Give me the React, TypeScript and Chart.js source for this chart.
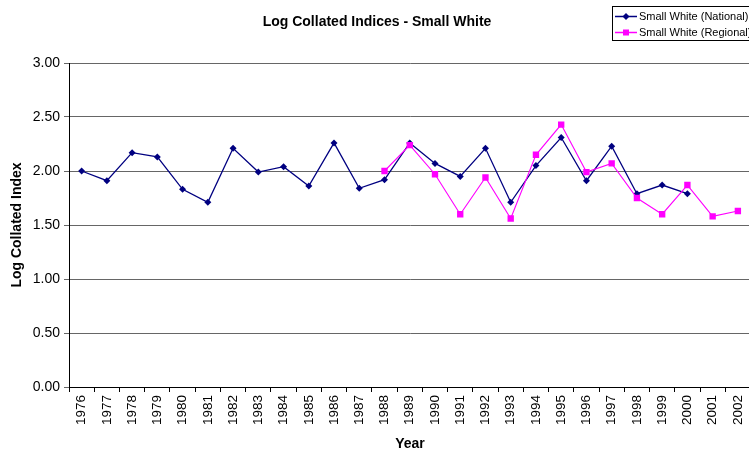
import React, { useEffect, useRef } from "react";
import { Chart, registerables } from "chart.js";

Chart.register(...registerables);

const years = [
  "1976", "1977", "1978", "1979", "1980", "1981", "1982", "1983", "1984",
  "1985", "1986", "1987", "1988", "1989", "1990", "1991", "1992", "1993",
  "1994", "1995", "1996", "1997", "1998", "1999", "2000", "2001", "2002",
];

const nationalValues: (number | null)[] = [
  2.0, 1.91, 2.17, 2.13, 1.83, 1.71, 2.21, 1.99, 2.04, 1.86, 2.26, 1.84, 1.92,
  2.26, 2.07, 1.95, 2.21, 1.71, 2.05, 2.31, 1.91, 2.23, 1.79, 1.87, 1.79, null, null,
];

const regionalValues: (number | null)[] = [
  null, null, null, null, null, null, null, null, null, null, null, null, 2.0,
  2.24, 1.97, 1.6, 1.94, 1.56, 2.15, 2.43, 1.99, 2.07, 1.75, 1.6, 1.87, 1.58, 1.63,
];

const seriesNames = ["Small White (National)", "Small White (Regional)"];
const chartTitle = "Log Collated Indices - Small White";
const xTitle = "Year";
const yTitle = "Log Collated Index";

const FONT = '"Liberation Sans", Arial, sans-serif';

const textPlugin = {
  id: "textPlugin",
  afterDraw(chart: any) {
    const ctx = chart.ctx as CanvasRenderingContext2D;
    const area = chart.chartArea;
    ctx.save();
    ctx.fillStyle = "#000";
    // chart title
    ctx.font = `bold 14px ${FONT}`;
    ctx.textAlign = "center";
    ctx.textBaseline = "middle";
    ctx.fillText(chartTitle, 377, 22);
    // x axis title
    ctx.fillText(xTitle, 410, 444);
    // y axis title
    ctx.save();
    ctx.translate(17, (area.top + area.bottom) / 2);
    ctx.rotate(-Math.PI / 2);
    ctx.fillText(yTitle, 0, 0);
    ctx.restore();

    // legend box
    const bx = 612.5, by = 6.5, bw = 137, bh = 34;
    ctx.fillStyle = "#fff";
    ctx.fillRect(bx, by, bw, bh);
    ctx.strokeStyle = "#000";
    ctx.lineWidth = 1;
    ctx.strokeRect(bx, by, bw, bh);
    const rows = [16.5, 32.5];
    chart.data.datasets.forEach((ds: any, i: number) => {
      const y = rows[i];
      ctx.strokeStyle = ds.borderColor;
      ctx.lineWidth = 1.5;
      ctx.beginPath();
      ctx.moveTo(615, y);
      ctx.lineTo(637, y);
      ctx.stroke();
      ctx.fillStyle = ds.pointBackgroundColor;
      ctx.beginPath();
      if (ds.pointStyle === "rect") {
        ctx.rect(626 - 3, y - 3, 6, 6);
      } else {
        ctx.moveTo(626, y - 3.5);
        ctx.lineTo(629.5, y);
        ctx.lineTo(626, y + 3.5);
        ctx.lineTo(622.5, y);
        ctx.closePath();
      }
      ctx.fill();
      ctx.fillStyle = "#000";
      ctx.font = `11px ${FONT}`;
      ctx.textAlign = "left";
      ctx.textBaseline = "middle";
      ctx.fillText(seriesNames[i], 639, y + 0.5);
    });
    ctx.restore();
  },
};

const CANVAS_W = 755;

export default function App() {
  const canvasRef = useRef<HTMLCanvasElement | null>(null);

  useEffect(() => {
    if (!canvasRef.current) return;
    const chart = new Chart(canvasRef.current, {
      type: "line",
      data: {
        labels: years,
        datasets: [
          {
            label: seriesNames[0],
            data: nationalValues,
            borderColor: "#000080",
            backgroundColor: "#000080",
            pointBackgroundColor: "#000080",
            pointBorderColor: "#000080",
            pointStyle: "rectRot",
            pointRadius: 3.5,
            pointBorderWidth: 0,
            borderWidth: 1.3,
            tension: 0,
            spanGaps: false,
            order: 1,
          },
          {
            label: seriesNames[1],
            data: regionalValues,
            borderColor: "#FF00FF",
            backgroundColor: "#FF00FF",
            pointBackgroundColor: "#FF00FF",
            pointBorderColor: "#FF00FF",
            pointStyle: "rect",
            pointRadius: 4.5,
            pointBorderWidth: 0,
            borderWidth: 1.1,
            tension: 0,
            spanGaps: false,
            order: 0,
          },
        ] as any,
      },
      options: {
        responsive: false,
        animation: false,
        devicePixelRatio: 1,
        layout: { padding: { top: 63, left: 0, right: 0, bottom: 0 } },
        plugins: {
          legend: { display: false },
          title: { display: false },
          tooltip: { enabled: false },
        },
        scales: {
          x: {
            type: "category",
            offset: true,
            grid: {
              offset: true,
              drawOnChartArea: false,
              drawTicks: true,
              tickLength: 5,
              color: "#000",
            },
            border: { color: "#000", width: 1 },
            ticks: {
              autoSkip: false,
              minRotation: 90,
              maxRotation: 90,
              padding: 3,
              color: "#000",
              font: { family: FONT, size: 13.5 },
            },
            afterFit: (scale: any) => {
              scale.height = 63;
              scale.paddingLeft = 0;
              scale.paddingRight = 0;
            },
          },
          y: {
            min: 0,
            max: 3,
            grid: {
              color: "#666",
              tickLength: 5,
              drawTicks: true,
            },
            border: { color: "#000", width: 1 },
            ticks: {
              stepSize: 0.5,
              padding: 4,
              color: "#000",
              font: { family: FONT, size: 14 },
              callback: (v: any) => Number(v).toFixed(2),
            },
            afterFit: (scale: any) => {
              scale.width = 69;
            },
          },
        },
      } as any,
      plugins: [textPlugin],
    });
    return () => chart.destroy();
  }, []);

  return (
    <div style={{ position: "fixed", left: 0, top: 0, width: 749, height: 450, background: "#fff", overflow: "hidden" }}>
      <canvas ref={canvasRef} width={CANVAS_W} height={450} style={{ width: CANVAS_W, height: 450, display: "block" }} />
    </div>
  );
}
